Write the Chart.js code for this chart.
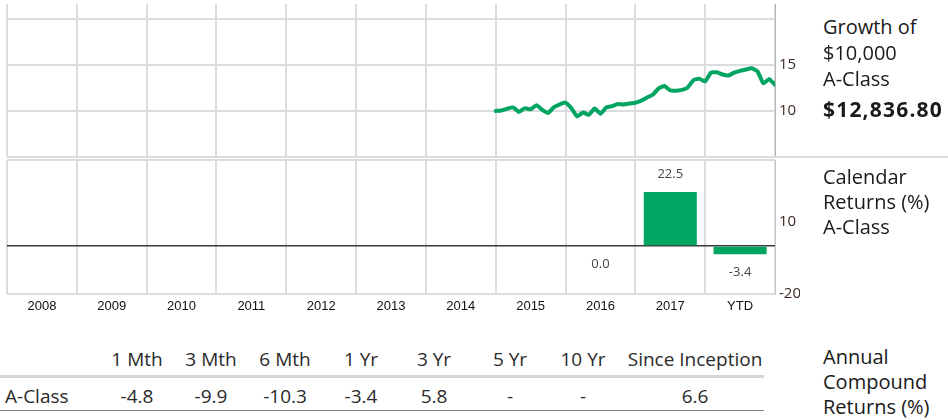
<!DOCTYPE html>
<html><head><meta charset="utf-8">
<script src="https://cdn.jsdelivr.net/npm/chart.js@4.4.0/dist/chart.umd.min.js"></script>
<style>
html,body{margin:0;padding:0;background:#fff;width:948px;height:420px;overflow:hidden;position:relative;font-family:"Open Sans",sans-serif;color:#1a1a1a}
.t{position:absolute;white-space:nowrap;font-size:20px;line-height:20px}
.c{position:absolute;white-space:nowrap;font-size:19px;line-height:20px;color:#2a2a2a;transform:translateX(-50%)}
.hl{position:absolute;height:0}
canvas{position:absolute;left:0}
</style></head><body>
<canvas id="growth" width="800" height="160" style="top:0px"></canvas>
<canvas id="returns" width="800" height="165" style="top:155px"></canvas>
<div class="hl" style="left:775px;top:156px;width:173px;border-top:2px solid #dcdcdc"></div>

<div class="t" style="left:823px;top:17px">Growth of</div>
<div class="t" style="left:823px;top:43px">$10,000</div>
<div class="t" style="left:823px;top:69px">A-Class</div>
<div class="t" id="final" style="left:823px;top:99px;font-weight:700;font-size:21px;letter-spacing:1.2px"></div>

<div class="t" style="left:823px;top:167px">Calendar</div>
<div class="t" style="left:823px;top:192px">Returns (%)</div>
<div class="t" style="left:823px;top:217px">A-Class</div>

<div class="t" style="left:823px;top:347px">Annual</div>
<div class="t" style="left:823px;top:372px">Compound</div>
<div class="t" style="left:823px;top:397px">Returns (%)</div>

<div class="hl" style="left:0;top:375px;width:764px;border-top:3px solid #d6d6d6"></div>
<div class="hl" style="left:0;top:410px;width:764px;border-top:1px solid #8a8a8a"></div>
<div id="table"></div>

<script>
// ---------- data ----------
const years = ['2008','2009','2010','2011','2012','2013','2014','2015','2016','2017','YTD'];
const growthStart = '2015-01';            // first month of the growth line
const growthValues = [                      // value of $10,000 in thousands, monthly
  10.00, 10.05, 10.25, 10.38, 9.88, 10.30, 10.18, 10.62, 10.12, 9.78, 10.40, 10.72,
  10.90, 10.30, 9.40, 9.82, 9.58, 10.25, 9.70, 10.38, 10.52, 10.74, 10.70, 10.80,
  10.88, 11.10, 11.45, 11.75, 12.45, 12.70, 12.22, 12.20, 12.28, 12.55, 13.35, 13.50,
  13.20, 14.15, 14.20, 13.95, 13.85, 14.15, 14.35, 14.50, 14.62, 14.28, 13.00, 13.45,
  12.84
];
const growthTicks = [5, 10, 15, 20];
const growthTickLabels = [10, 15];
const calendarReturns = [null, null, null, null, null, null, null, null, 0.0, 22.5, -3.4];
const returnTicks = [-20, 0, 10];
const returnTickLabels = [-20, 10];
const finalValue = '$12,836.80';
const periods = ['1 Mth', '3 Mth', '6 Mth', '1 Yr', '3 Yr', '5 Yr', '10 Yr', 'Since Inception'];
const rowName = 'A-Class';
const classReturns = ['-4.8', '-9.9', '-10.3', '-3.4', '5.8', '-', '-', '6.6'];

// ---------- helpers ----------
const GREEN = '#00a562';
const GRID = '#dcdcdc';
const TICKCOL = '#3d2b22';
const baseYear = parseInt(years[0], 10);
const [sy, sm] = growthStart.split('-').map(Number);
const startIdx = (sy - baseYear) * 12 + (sm - 1);
const growthPoints = growthValues.map((v, i) => ({ x: startIdx + i, y: v }));
const xMax = years.length * 12;

document.getElementById('final').textContent = finalValue;

// table
const colX = [137, 211, 285, 361, 434, 510, 583, 695];
const tbl = document.getElementById('table');
periods.forEach((p, i) => {
  const d = document.createElement('div'); d.className = 'c';
  d.style.left = colX[i] + 'px'; d.style.top = '349px'; d.textContent = p; tbl.appendChild(d);
  const e = document.createElement('div'); e.className = 'c';
  e.style.left = colX[i] + 'px'; e.style.top = '386px'; e.textContent = classReturns[i]; tbl.appendChild(e);
});
const rn = document.createElement('div'); rn.className = 'c';
rn.style.left = '5px'; rn.style.transform = 'none'; rn.style.top = '386px'; rn.textContent = rowName; tbl.appendChild(rn);

const fitRight = s => { s.width = 25; s.paddingTop = 0; s.paddingBottom = 0; };
const fitNone = s => { s.paddingLeft = 0; s.paddingRight = 0; };

// ---------- growth chart ----------
new Chart(document.getElementById('growth'), {
  type: 'line',
  data: { datasets: [{ data: growthPoints, borderColor: GREEN, borderWidth: 4, pointRadius: 0,
    tension: 0.15, borderJoinStyle: 'round', borderCapStyle: 'round', fill: false }] },
  options: {
    responsive: false, animation: false, events: [],
    layout: { padding: { left: 7, top: 4, right: 0, bottom: 3 } },
    plugins: { legend: { display: false }, tooltip: { enabled: false } },
    scales: {
      x: { type: 'linear', min: 0, max: xMax,
        afterBuildTicks: s => { s.ticks = years.map((y, i) => ({ value: i * 12 })).concat([{ value: xMax }]); },
        afterFit: s => { s.height = 0; fitNone(s); },
        ticks: { display: false }, grid: { color: GRID, lineWidth: 2, drawTicks: false }, border: { display: false } },
      y: { position: 'right', min: 5, max: 21.6,
        afterBuildTicks: s => { s.ticks = growthTicks.map(v => ({ value: v })); },
        afterFit: fitRight,
        ticks: { padding: 4, color: TICKCOL, font: { family: 'Open Sans', size: 15 },
          callback: v => growthTickLabels.includes(v) ? String(v) : '' },
        grid: { color: GRID, lineWidth: 2, drawTicks: false },
        border: { display: true, color: '#b5b5b5', width: 1 } }
    }
  }
});

// ---------- calendar returns chart ----------
const valueLabels = {
  id: 'valueLabels',
  afterDatasetsDraw(chart) {
    const ctx = chart.ctx, meta = chart.getDatasetMeta(0), data = chart.data.datasets[0].data;
    ctx.save();
    ctx.font = '13px "Open Sans"'; ctx.fillStyle = '#444'; ctx.textAlign = 'center'; ctx.textBaseline = 'middle';
    meta.data.forEach((bar, i) => {
      const v = data[i]; if (v === null || v === undefined) return;
      const y = v > 0 ? bar.y - 18 : Math.max(bar.y, bar.base) + 18;
      ctx.fillText(v.toFixed(1), bar.x, y);
    });
    ctx.restore();
  }
};
const rMax = 35.8;
new Chart(document.getElementById('returns'), {
  type: 'bar',
  data: { labels: years, datasets: [{ data: calendarReturns, backgroundColor: GREEN, borderWidth: 0,
    barPercentage: 0.76, categoryPercentage: 1.0 }] },
  options: {
    responsive: false, animation: false, events: [],
    layout: { padding: { left: 7, top: 5, right: 0, bottom: 0 } },
    plugins: { legend: { display: false }, tooltip: { enabled: false } },
    scales: {
      x: { offset: true, grid: { offset: true, color: GRID, lineWidth: 2, drawTicks: false }, border: { display: false },
        afterFit: s => { s.height = 26; fitNone(s); },
        ticks: { padding: 5, color: '#111', maxRotation: 0, autoSkip: false, font: { family: 'Liberation Sans', size: 13 } } },
      y: { position: 'right', min: -20, max: rMax,
        afterBuildTicks: s => { s.ticks = returnTicks.concat([rMax]).map(v => ({ value: v })); },
        afterFit: fitRight,
        ticks: { padding: 4, color: TICKCOL, font: { family: 'Open Sans', size: 15 },
          callback: v => returnTickLabels.includes(v) ? String(v) : '' },
        grid: { drawTicks: false,
          color: c => c.tick.value === 0 ? '#3a3a3a' : (returnTickLabels.includes(c.tick.value) && c.tick.value !== -20 ? 'rgba(0,0,0,0)' : GRID),
          lineWidth: c => c.tick.value === 0 ? 1.5 : 2 },
        border: { display: true, color: '#c8c8c8', width: 1 } }
    }
  },
  plugins: [valueLabels]
});
</script>
</body></html>
